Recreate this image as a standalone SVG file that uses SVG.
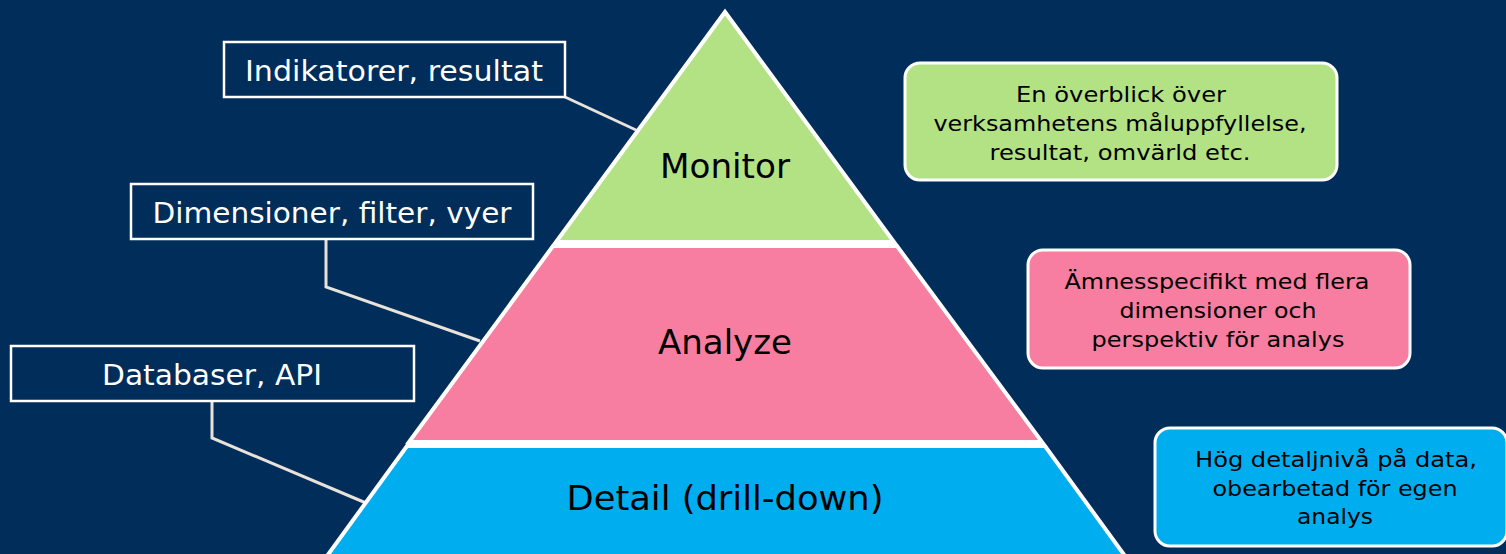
<svg xmlns="http://www.w3.org/2000/svg" width="1506" height="554" viewBox="0 0 1506 554">
<style>
.band{stroke:#ffffff;stroke-width:4;stroke-linejoin:miter}
.lbl{fill:none;stroke:#ffffff;stroke-width:2.5}
.lt{font-family:"DejaVu Sans","Liberation Sans",sans-serif;font-size:28px;fill:#ffffff;text-anchor:middle}
.pt{font-family:"DejaVu Sans","Liberation Sans",sans-serif;font-size:34px;fill:#000000;text-anchor:middle}
.dt{font-family:"DejaVu Sans","Liberation Sans",sans-serif;font-size:21px;fill:#000000;text-anchor:middle}
.desc{stroke:#ffffff;stroke-width:3}
.conn{fill:none;stroke:#e8e2da;stroke-width:3}
</style>
<rect x="0" y="0" width="1506" height="554" fill="#002d5a"/>
<g id="connectors">
<polyline class="conn" points="565,97 636,130"/>
<polyline class="conn" points="326,239 326,287 480,341"/>
<polyline class="conn" points="212,401 212,438 366,503"/>
</g>
<g id="monitor">
<polygon class="band" fill="#b3e285" points="725,12 556,242 894,242"/>
<text class="pt" x="725" y="178" textLength="130" lengthAdjust="spacingAndGlyphs">Monitor</text>
</g>
<g id="analyze">
<polygon class="band" fill="#f77ea0" points="553,246 897,246 1042,442 409,442"/>
<text class="pt" x="725" y="354" textLength="134" lengthAdjust="spacingAndGlyphs">Analyze</text>
</g>
<g id="detail">
<polygon class="band" fill="#00aeef" points="407,446 1045,446 1125,556 327,556"/>
<text class="pt" x="725" y="510" textLength="317" lengthAdjust="spacingAndGlyphs">Detail (drill-down)</text>
</g>
<g id="lbl-indikatorer">
<rect class="lbl" x="224" y="42" width="341" height="55"/>
<text class="lt" x="394" y="81" textLength="298" lengthAdjust="spacingAndGlyphs">Indikatorer, resultat</text>
</g>
<g id="lbl-dimensioner">
<rect class="lbl" x="131" y="184" width="402" height="55"/>
<text class="lt" x="332" y="223" textLength="359" lengthAdjust="spacingAndGlyphs">Dimensioner, filter, vyer</text>
</g>
<g id="lbl-databaser">
<rect class="lbl" x="11" y="346" width="403" height="55"/>
<text class="lt" x="212" y="385" textLength="220" lengthAdjust="spacingAndGlyphs">Databaser, API</text>
</g>
<g id="desc-monitor">
<rect class="desc" fill="#b3e285" x="905" y="63" width="432" height="117" rx="15"/>
<text class="dt" x="1121" y="102" textLength="210" lengthAdjust="spacingAndGlyphs">En överblick över</text>
<text class="dt" x="1120" y="131" textLength="373" lengthAdjust="spacingAndGlyphs">verksamhetens måluppfyllelse,</text>
<text class="dt" x="1120" y="160" textLength="261" lengthAdjust="spacingAndGlyphs">resultat, omvärld etc.</text>
</g>
<g id="desc-analyze">
<rect class="desc" fill="#f77ea0" x="1028" y="250" width="382" height="118" rx="15"/>
<text class="dt" x="1217" y="289" textLength="305" lengthAdjust="spacingAndGlyphs">Ämnesspecifikt med flera</text>
<text class="dt" x="1218" y="318" textLength="197" lengthAdjust="spacingAndGlyphs">dimensioner och</text>
<text class="dt" x="1218" y="347" textLength="253" lengthAdjust="spacingAndGlyphs">perspektiv för analys</text>
</g>
<g id="desc-detail">
<rect class="desc" fill="#00aeef" x="1155" y="428" width="352" height="118" rx="15"/>
<text class="dt" x="1336" y="467" textLength="282" lengthAdjust="spacingAndGlyphs">Hög detaljnivå på data,</text>
<text class="dt" x="1335" y="496" textLength="245" lengthAdjust="spacingAndGlyphs">obearbetad för egen</text>
<text class="dt" x="1335" y="524" textLength="76" lengthAdjust="spacingAndGlyphs">analys</text>
</g>
</svg>
